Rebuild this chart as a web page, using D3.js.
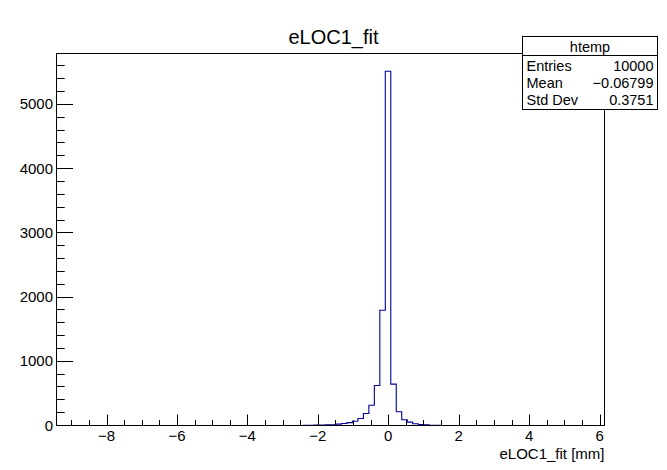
<!DOCTYPE html>
<html>
<head>
<meta charset="utf-8">
<script src="https://cdn.jsdelivr.net/npm/d3@7"></script>
<style>
    body { margin: 0; background: #fff; }
    svg { display: block; font-family: "Liberation Sans", Arial, Helvetica, sans-serif; }
</style>
</head>
<body>
<svg id="chart" width="667" height="470"></svg>
<script>
// histogram htemp: 100 bins over the x range, only the non empty bins listed
var xRange = [-9.42, 6.14];
var nBins = 100;
var firstBin = 44;
var counts = [1, 2, 3, 6, 8, 10, 12, 22, 30, 45, 66, 108, 188, 315, 622, 1795, 5518,
              645, 215, 90, 52, 27, 14, 9, 3, 2, 1];
var xTicks = [-8, -6, -4, -2, 0, 2, 4, 6];
var yTicks = [0, 1000, 2000, 3000, 4000, 5000];
var statLabels = ['Entries', 'Mean', 'Std Dev'];
var statValues = ['10000', '\u22120.06799', '0.3751'];

var W = 667, H = 470;
var frame = {left: 56.5, right: 604.5, top: 53.5, bottom: 425.5};

var svg = d3.select('#chart');

var binW = (xRange[1] - xRange[0]) / nBins;
var bins = [];
for (var i = 0; i < nBins; i++) {
    var k = i - firstBin;
    bins.push({lo: xRange[0] + i * binW, hi: xRange[0] + (i + 1) * binW,
               n: (k >= 0 && k < counts.length) ? counts[k] : 0});
}

var xs = d3.scaleLinear().domain(xRange).range([frame.left, frame.right]);
var ys = d3.scaleLinear().domain([0, d3.max(counts) * 1.05]).range([frame.bottom, frame.top]);

// histogram outline, ROOT style steps
var pts = [];
bins.forEach(function (b) {
    pts.push([xs(b.lo), ys(b.n)]);
    pts.push([xs(b.hi), ys(b.n)]);
});
svg.append('path')
    .attr('d', d3.line()(pts))
    .attr('fill', 'none')
    .attr('stroke', '#000099')
    .attr('stroke-width', 1.1);

// frame on top of the histogram so the empty bins hide under the axis
svg.append('rect')
    .attr('x', frame.left).attr('y', frame.top)
    .attr('width', frame.right - frame.left).attr('height', frame.bottom - frame.top)
    .attr('fill', 'none').attr('stroke', '#000').attr('stroke-width', 1);

// x axis: major every 2, minor every 0.5
var xMinor = d3.range(-9, 6.01, 0.5);
var xAx = svg.append('g');
xAx.selectAll('line').data(xMinor).enter().append('line')
    .attr('x1', function (d) { return Math.round(xs(d)) + 0.5; })
    .attr('x2', function (d) { return Math.round(xs(d)) + 0.5; })
    .attr('y1', frame.bottom).attr('y2', function (d) {
        return frame.bottom - (xTicks.indexOf(d) >= 0 ? 11 : 5.5);
    })
    .attr('stroke', '#000');
xAx.append('line')
    .attr('x1', frame.left).attr('x2', frame.right)
    .attr('y1', frame.bottom).attr('y2', frame.bottom)
    .attr('stroke', '#000');
svg.selectAll('text.xl').data(xTicks).enter().append('text')
    .attr('x', function (d) { return xs(d); })
    .attr('y', 441)
    .attr('text-anchor', 'middle')
    .style('font-size', '15px')
    .text(function (d) { return d < 0 ? '\u2212' + Math.abs(d) : d; });
svg.append('text')
    .attr('x', frame.right).attr('y', 458.5)
    .attr('text-anchor', 'end')
    .style('font-size', '15px')
    .text('eLOC1_fit [mm]');

// y axis: major every 1000, minor every 200
var yMinor = d3.range(0, ys.domain()[1], 200);
var yAx = svg.append('g');
yAx.selectAll('line').data(yMinor).enter().append('line')
    .attr('y1', function (d) { return Math.round(ys(d) - 0.5) + 0.5; })
    .attr('y2', function (d) { return Math.round(ys(d) - 0.5) + 0.5; })
    .attr('x1', frame.left).attr('x2', function (d) {
        return frame.left + (d % 1000 === 0 ? 16.5 : 8.2);
    })
    .attr('stroke', '#000');
svg.selectAll('text.yl').data(yTicks).enter().append('text')
    .attr('x', 53)
    .attr('y', function (d) { return ys(d) + 5; })
    .attr('text-anchor', 'end')
    .style('font-size', '15px')
    .text(function (d) { return d; });

// title
svg.append('text')
    .attr('x', W / 2).attr('y', 44)
    .attr('text-anchor', 'middle')
    .style('font-size', '20px')
    .text('eLOC1_fit');

// stats box
var box = {x: 522.5, y: 36.5, w: 135, h: 73};
var sb = svg.append('g');
sb.append('rect')
    .attr('x', box.x).attr('y', box.y).attr('width', box.w).attr('height', box.h)
    .attr('fill', '#fff').attr('stroke', '#000');
sb.append('line')
    .attr('x1', box.x).attr('x2', box.x + box.w)
    .attr('y1', box.y + 19).attr('y2', box.y + 19)
    .attr('stroke', '#000');
sb.append('text')
    .attr('x', box.x + box.w / 2).attr('y', box.y + 15)
    .attr('text-anchor', 'middle')
    .style('font-size', '14.5px')
    .text('htemp');
statLabels.forEach(function (s, i) {
    var yy = box.y + 34 + i * 17;
    sb.append('text').attr('x', box.x + 4).attr('y', yy)
        .style('font-size', '14.5px').text(s);
    sb.append('text').attr('x', box.x + box.w - 4).attr('y', yy)
        .attr('text-anchor', 'end')
        .style('font-size', '14.5px').text(statValues[i]);
});
</script>
</body>
</html>
